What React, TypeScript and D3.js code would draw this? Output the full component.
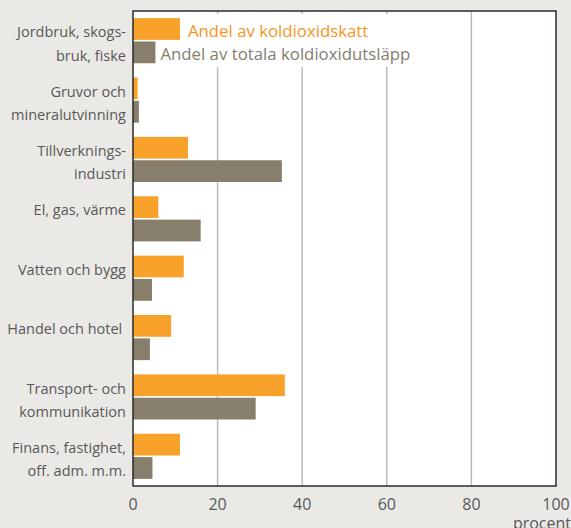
import * as d3 from "d3";
import { useEffect, useRef } from "react";

const categories = [
  ["Jordbruk, skogs-", "bruk, fiske"],
  ["Gruvor och", "mineralutvinning"],
  ["Tillverknings-", "industri"],
  ["El, gas, värme"],
  ["Vatten och bygg"],
  ["Handel och hotel\u00a0"],
  ["Transport- och", "kommunikation"],
  ["Finans, fastighet,", "off. adm. m.m."],
];
const taxShare = [11.1, 1.1, 13, 6, 12, 9, 35.9, 11.1];
const emissionShare = [5.3, 1.4, 35.2, 16, 4.5, 4, 29, 4.6];
const ticks = [0, 20, 40, 60, 80, 100];
const legendLabels = ["Andel av koldioxidskatt", "Andel av totala koldioxidutsläpp"];

const FONT = "'Open Sans', sans-serif";

export default function App() {
  const ref = useRef<SVGSVGElement>(null);

  useEffect(() => {
    const svg = d3.select(ref.current);
    svg.selectAll("*").remove();

    const width = 571;
    const height = 528;
    const margin = { top: 11, right: 15, bottom: 42, left: 133 };
    const plotW = width - margin.left - margin.right;
    const plotH = height - margin.top - margin.bottom;

    svg.append("rect").attr("width", width).attr("height", height).attr("fill", "#ebe9e5");

    const g = svg.append("g").attr("transform", `translate(${margin.left},${margin.top})`);

    const x = d3.scaleLinear().domain([0, 100]).range([0, plotW]);
    const y = d3
      .scaleBand<number>()
      .domain(d3.range(categories.length))
      .range([0, plotH])
      .paddingInner(0.24)
      .paddingOuter(0.12);
    const inner = d3.scaleBand<number>().domain([0, 1]).range([0, y.bandwidth()]).paddingInner(0.07);
    const bandY = (i: number) => y(i) as number;

    g.append("rect").attr("width", plotW).attr("height", plotH).attr("fill", "#fff");

    // grid
    g.selectAll(".grid")
      .data(ticks.slice(1, -1))
      .enter()
      .append("line")
      .attr("x1", d => x(d))
      .attr("x2", d => x(d))
      .attr("y1", 0)
      .attr("y2", plotH)
      .attr("stroke", "#b9b9bb")
      .attr("stroke-width", 1.5);

    // legend background
    g.append("rect")
      .attr("x", x(3))
      .attr("y", 3)
      .attr("width", x(67) - x(3))
      .attr("height", 53)
      .attr("fill", "#fff");

    // bars
    g.selectAll(".tax")
      .data(taxShare)
      .enter()
      .append("rect")
      .attr("x", 0)
      .attr("y", (_, i) => bandY(i) + (inner(0) as number))
      .attr("width", d => x(d))
      .attr("height", inner.bandwidth())
      .attr("fill", "#f8a12b");

    g.selectAll(".em")
      .data(emissionShare)
      .enter()
      .append("rect")
      .attr("x", 0)
      .attr("y", (_, i) => bandY(i) + (inner(1) as number))
      .attr("width", d => x(d))
      .attr("height", inner.bandwidth())
      .attr("fill", "#877e6c");

    // legend
    g.append("text")
      .attr("x", x(taxShare[0]) + 8)
      .attr("y", bandY(0) + (inner(0) as number) + inner.bandwidth() - 3)
      .attr("fill", "#f7941d")
      .style("font-family", FONT)
      .style("font-size", "16.8px")
      .text(legendLabels[0]);
    g.append("text")
      .attr("x", x(emissionShare[0]) + 5)
      .attr("y", bandY(0) + (inner(1) as number) + inner.bandwidth() - 3)
      .attr("fill", "#857d70")
      .style("font-family", FONT)
      .style("font-size", "16.8px")
      .text(legendLabels[1]);

    // frame
    g.append("rect")
      .attr("width", plotW)
      .attr("height", plotH)
      .attr("fill", "none")
      .attr("stroke", "#2a2a2a")
      .attr("stroke-width", 1.5);

    // category labels
    const labels = svg
      .append("g")
      .selectAll("text")
      .data(categories)
      .enter()
      .append("text")
      .attr("text-anchor", "end")
      .attr("fill", "#58585a")
      .style("font-family", FONT)
      .style("font-size", "14.5px")
      .style("white-space", "pre")
      .attr("transform", (_, i) => `translate(${margin.left - 7},${margin.top + bandY(i) + (inner(0) as number) + inner.bandwidth() - 2.5})`);
    labels
      .selectAll("tspan")
      .data(d => d)
      .enter()
      .append("tspan")
      .attr("x", 0)
      .attr("dy", (_, j) => (j === 0 ? 0 : 23.3))
      .text(d => d);

    // tick labels
    svg
      .append("g")
      .selectAll("text")
      .data(ticks)
      .enter()
      .append("text")
      .attr("x", d => margin.left + x(d))
      .attr("y", margin.top + plotH + 24)
      .attr("text-anchor", "middle")
      .attr("fill", "#58585a")
      .style("font-family", FONT)
      .style("font-size", "16px")
      .text(d => d);

    svg
      .append("text")
      .attr("x", width)
      .attr("y", height + 1)
      .attr("text-anchor", "end")
      .attr("fill", "#58585a")
      .style("font-family", FONT)
      .style("font-size", "16px")
      .text("procent");
  }, []);

  return (
    <div style={{ position: "absolute", left: 0, top: 0 }}>
      <svg ref={ref} width={571} height={528} style={{ display: "block" }} />
    </div>
  );
}
